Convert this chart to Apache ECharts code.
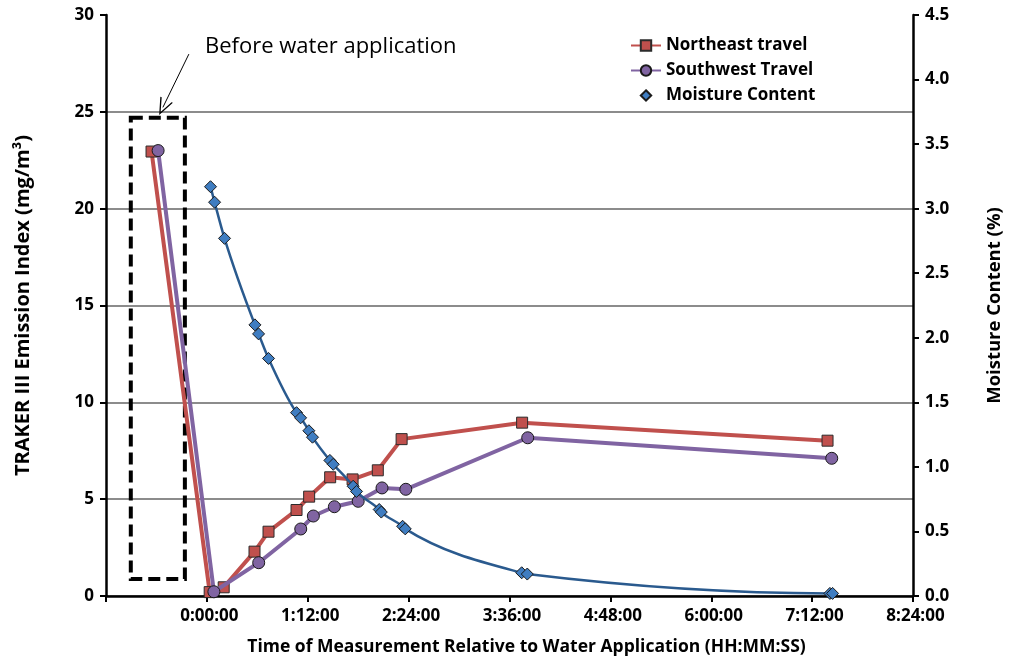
<!DOCTYPE html>
<html>
<head>
<meta charset="utf-8">
<script src="https://cdn.jsdelivr.net/npm/echarts@6/dist/echarts.min.js"></script>
<style>
  html, body { margin: 0; padding: 0; background: #fff; }
  #chart { width: 1013px; height: 662px; }
</style>
</head>
<body>
<div id="chart"></div>
<script>
// Time is in minutes relative to water application (negative = before).
var neTime  = [-39.5, 2, 12, 34, 44, 64, 73, 88, 104, 122, 139, 225, 443];
var neValue = [22.95, 0.2, 0.45, 2.29, 3.32, 4.44, 5.13, 6.13, 6.02, 6.49, 8.1, 8.95, 8.02];

var swTime  = [-34.8, 5, 37, 67, 76, 91, 108, 125, 142, 229, 446];
var swValue = [23.0, 0.22, 1.72, 3.46, 4.13, 4.61, 4.89, 5.58, 5.51, 8.17, 7.11];

var mcTime  = [2.6, 5.5, 12.6, 34.3, 36.9, 44, 64, 66.9, 72.8, 75.4, 87.8, 90.2,
               104.4, 106.8, 123, 124.5, 139.7, 141.6, 224.7, 228.7, 444.7, 446.6];
var mcValue = [3.17, 3.05, 2.77, 2.10, 2.03, 1.84, 1.42, 1.38, 1.28, 1.23, 1.05, 1.02,
               0.85, 0.81, 0.67, 0.65, 0.54, 0.52, 0.18, 0.17, 0.02, 0.02];

var leftTicks  = { min: 0, max: 30, step: 5 };
var rightTicks = { min: 0, max: 4.5, step: 0.5 };
var timeTicks  = { min: -72, max: 504, step: 72 };

function pairs(xs, ys) {
  return xs.map(function (x, i) { return [x, ys[i]]; });
}

function hms(min) {
  if (min < 0) return '';
  var total = Math.round(min * 60);
  var h = Math.floor(total / 3600);
  var m = Math.floor((total % 3600) / 60);
  var s = total % 60;
  return h + ':' + String(m).padStart(2, '0') + ':' + String(s).padStart(2, '0');
}

// Smoothed moisture curve: monotone cubic (Fritsch-Carlson) through every
// measured point, drawn as Bezier segments mapped through the axes.
function monotoneSlopes(xs, ys) {
  var n = xs.length, h = [], d = [], m = [];
  for (var i = 0; i < n - 1; i++) {
    h.push(xs[i + 1] - xs[i]);
    d.push((ys[i + 1] - ys[i]) / h[i]);
  }
  m[0] = d[0];
  m[n - 1] = d[n - 2];
  for (var k = 1; k < n - 1; k++) {
    if (d[k - 1] * d[k] <= 0) { m[k] = 0; continue; }
    var w1 = 2 * h[k] + h[k - 1], w2 = h[k] + 2 * h[k - 1];
    m[k] = (w1 + w2) / (w1 / d[k - 1] + w2 / d[k]);
  }
  return m;
}
var mcSlopes = monotoneSlopes(mcTime, mcValue);

function renderMoistureCurve(params, api) {
  if (params.dataIndex !== 0) return null;
  var children = [];
  for (var i = 0; i < mcTime.length - 1; i++) {
    var x0 = mcTime[i], x1 = mcTime[i + 1], y0 = mcValue[i], y1 = mcValue[i + 1];
    var h3 = (x1 - x0) / 3;
    var a = api.coord([x0, y0]);
    var b = api.coord([x1, y1]);
    var c1 = api.coord([x0 + h3, y0 + mcSlopes[i] * h3]);
    var c2 = api.coord([x1 - h3, y1 - mcSlopes[i + 1] * h3]);
    children.push({
      type: 'bezierCurve',
      shape: { x1: a[0], y1: a[1], x2: b[0], y2: b[1], cpx1: c1[0], cpy1: c1[1], cpx2: c2[0], cpy2: c2[1] },
      style: { stroke: '#2A5A8E', lineWidth: 2.5, fill: null }
    });
  }
  return { type: 'group', children: children };
}

var FONT = '"Open Sans"';
var axisLabelStyle = { color: '#000', fontFamily: FONT, fontWeight: 'bold', fontSize: 17 };
var axisLine = { show: true, onZero: false, lineStyle: { color: '#000', width: 2.5 } };
var axisTick = { show: true, length: 6, lineStyle: { color: '#000', width: 2 } };
var legendText = { color: '#000', fontFamily: FONT, fontWeight: 'bold', fontSize: 17 };

var chart = echarts.init(document.getElementById('chart'), null, { renderer: 'canvas' });

chart.setOption({
  animation: false,
  backgroundColor: '#fff',
  grid: { left: 106, right: 100, top: 15, bottom: 66, containLabel: false },
  legend: [
    {
      orient: 'vertical', left: 625, top: 32,
      itemWidth: 30, itemHeight: 13, itemGap: 8,
      textStyle: legendText,
      data: ['Northeast travel', 'Southwest Travel']
    },
    {
      orient: 'vertical', left: 625, top: 82,
      itemWidth: 30, itemHeight: 13,
      textStyle: legendText,
      data: [{ name: 'Moisture Content', lineStyle: { opacity: 0 } }]
    }
  ],
  graphic: [
    {
      type: 'text', left: 205, top: 36, silent: true,
      style: { text: 'Before water application', fill: '#000', font: '22px ' + FONT }
    }
  ],
  xAxis: {
    type: 'value',
    min: timeTicks.min, max: timeTicks.max, interval: timeTicks.step,
    name: 'Time of Measurement Relative to Water Application (HH:MM:SS)',
    nameLocation: 'middle', nameGap: 42,
    nameTextStyle: { color: '#000', fontFamily: FONT, fontWeight: 'bold', fontSize: 17.5, padding: [0, 0, 0, 34] },
    axisLine: axisLine, axisTick: axisTick,
    axisLabel: Object.assign({ formatter: hms, margin: 12, padding: [0, 0, 0, 5] }, axisLabelStyle),
    splitLine: { show: false }
  },
  yAxis: [
    {
      type: 'value', position: 'left',
      min: leftTicks.min, max: leftTicks.max, interval: leftTicks.step,
      name: 'TRAKER III Emission Index (mg/m³)',
      nameLocation: 'middle', nameGap: 73,
      nameTextStyle: { color: '#000', fontFamily: FONT, fontWeight: 'bold', fontSize: 20 },
      axisLine: axisLine, axisTick: axisTick,
      axisLabel: Object.assign({ margin: 12 }, axisLabelStyle),
      splitLine: {
        show: true,
        lineStyle: { color: ['#8c8c8c', '#8c8c8c', '#8c8c8c', '#8c8c8c', '#8c8c8c', '#8c8c8c', 'rgba(0,0,0,0)'], width: 2 }
      }
    },
    {
      type: 'value', position: 'right',
      min: rightTicks.min, max: rightTicks.max, interval: rightTicks.step,
      name: 'Moisture Content (%)',
      nameLocation: 'middle', nameGap: 72, nameRotate: 90,
      nameTextStyle: { color: '#000', fontFamily: FONT, fontWeight: 'bold', fontSize: 18.5 },
      axisLine: axisLine, axisTick: axisTick,
      axisLabel: Object.assign({ margin: 12, formatter: function (v) { return v.toFixed(1); } }, axisLabelStyle),
      splitLine: { show: false }
    }
  ],
  series: [
    {
      name: 'Northeast travel', type: 'line', yAxisIndex: 0,
      data: pairs(neTime, neValue),
      symbol: 'rect', symbolSize: 11,
      lineStyle: { color: '#C0504D', width: 4 },
      itemStyle: { color: '#C0504D', borderColor: '#2b2b2b', borderWidth: 1 },
      z: 3,
      markArea: {
        silent: true,
        label: { show: false },
        itemStyle: { color: 'rgba(0,0,0,0)', borderColor: '#000', borderWidth: 4, borderType: [12, 6] },
        data: [[{ coord: [-54.3, 24.7] }, { coord: [-15.7, 0.88] }]]
      }
    },
    {
      name: 'Southwest Travel', type: 'line', yAxisIndex: 0,
      data: pairs(swTime, swValue),
      symbol: 'circle', symbolSize: 12,
      lineStyle: { color: '#8064A2', width: 4 },
      itemStyle: { color: '#8064A2', borderColor: '#1a1a1a', borderWidth: 1 },
      z: 4,
      markLine: {
        silent: true,
        symbol: ['none', 'path://M5,0 L10,12 L8.9,12 L5,2.4 L1.1,12 L0,12 Z'],
        symbolSize: [14, 17],
        label: { show: false },
        lineStyle: { color: '#000', width: 1, type: 'solid' },
        data: [[{ coord: [-12.85, 27.98] }, { coord: [-31.4, 25.23] }]]
      }
    },
    {
      name: 'Moisture curve', type: 'custom', yAxisIndex: 1,
      data: pairs(mcTime, mcValue),
      renderItem: renderMoistureCurve,
      silent: true,
      z: 5
    },
    {
      name: 'Moisture Content', type: 'line', yAxisIndex: 1,
      data: pairs(mcTime, mcValue),
      symbol: 'diamond', symbolSize: 12,
      lineStyle: { opacity: 0 },
      itemStyle: { color: '#3F7DC1', borderColor: '#1a1a1a', borderWidth: 1 },
      z: 6
    }
  ]
});
</script>
</body>
</html>
